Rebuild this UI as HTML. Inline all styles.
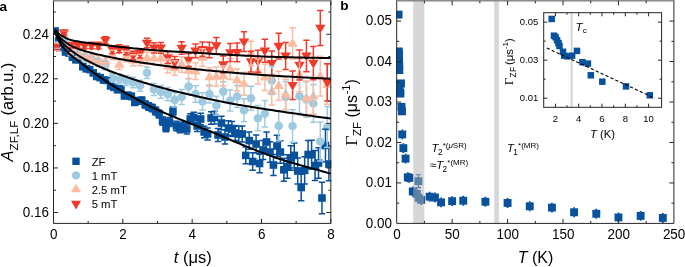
<!DOCTYPE html>
<html lang="en"><head><meta charset="utf-8"><title>Figure</title>
<style>html,body{margin:0;padding:0;background:#fff}svg{display:block;filter:blur(0.35px)}</style></head>
<body>
<svg width="685" height="267" viewBox="0 0 685 267" font-family='"Liberation Sans", Arial, Helvetica, sans-serif' fill="#000">
<rect width="685" height="267" fill="#fff"/>
<defs><clipPath id="ca"><rect x="53.5" y="0.9" width="277.8" height="222.5"/></clipPath>
<clipPath id="cb"><rect x="396.2" y="0.5" width="278.2" height="223.4"/></clipPath></defs>
<g clip-path="url(#ca)">
<g>
<rect x="51.3" y="27.2" width="7.6" height="7.6" fill="#08519c"/>
<rect x="54.77" y="37.2" width="7.6" height="7.6" fill="#08519c"/>
<rect x="58.23" y="43.7" width="7.6" height="7.6" fill="#08519c"/>
<rect x="61.7" y="48.2" width="7.6" height="7.6" fill="#08519c"/>
<rect x="65.16" y="49.27" width="7.6" height="7.6" fill="#08519c"/>
<rect x="68.63" y="53.39" width="7.6" height="7.6" fill="#08519c"/>
<rect x="72.1" y="56.01" width="7.6" height="7.6" fill="#08519c"/>
<rect x="75.56" y="55.82" width="7.6" height="7.6" fill="#08519c"/>
<rect x="79.03" y="62.97" width="7.6" height="7.6" fill="#08519c"/>
<rect x="82.49" y="65.03" width="7.6" height="7.6" fill="#08519c"/>
<rect x="85.96" y="65.77" width="7.6" height="7.6" fill="#08519c"/>
<rect x="89.43" y="69.11" width="7.6" height="7.6" fill="#08519c"/>
<rect x="92.89" y="72.68" width="7.6" height="7.6" fill="#08519c"/>
<rect x="96.36" y="73.87" width="7.6" height="7.6" fill="#08519c"/>
<rect x="99.82" y="76.26" width="7.6" height="7.6" fill="#08519c"/>
<rect x="103.29" y="76.62" width="7.6" height="7.6" fill="#08519c"/>
<rect x="106.76" y="82.08" width="7.6" height="7.6" fill="#08519c"/>
<rect x="110.22" y="83.57" width="7.6" height="7.6" fill="#08519c"/>
<rect x="113.69" y="85.91" width="7.6" height="7.6" fill="#08519c"/>
<rect x="117.15" y="85.03" width="7.6" height="7.6" fill="#08519c"/>
<rect x="120.62" y="92.05" width="7.6" height="7.6" fill="#08519c"/>
<rect x="124.09" y="91.56" width="7.6" height="7.6" fill="#08519c"/>
<rect x="127.55" y="92.59" width="7.6" height="7.6" fill="#08519c"/>
<rect x="131.02" y="98.37" width="7.6" height="7.6" fill="#08519c"/>
<rect x="134.48" y="96.96" width="7.6" height="7.6" fill="#08519c"/>
<rect x="137.95" y="96.6" width="7.6" height="7.6" fill="#08519c"/>
<rect x="141.42" y="100.7" width="7.6" height="7.6" fill="#08519c"/>
<rect x="144.88" y="102.7" width="7.6" height="7.6" fill="#08519c"/>
<rect x="148.35" y="104.2" width="7.6" height="7.6" fill="#08519c"/>
<rect x="151.81" y="107.2" width="7.6" height="7.6" fill="#08519c"/>
<rect x="155.28" y="110.2" width="7.6" height="7.6" fill="#08519c"/>
<rect x="158.75" y="117.2" width="7.6" height="7.6" fill="#08519c"/>
<rect x="162.21" y="123.8" width="7.6" height="7.6" fill="#08519c"/>
<rect x="165.68" y="118.2" width="7.6" height="7.6" fill="#08519c"/>
<rect x="169.14" y="107.7" width="7.6" height="7.6" fill="#08519c"/>
<rect x="172.61" y="122.2" width="7.6" height="7.6" fill="#08519c"/>
<rect x="176.08" y="124.2" width="7.6" height="7.6" fill="#08519c"/>
<rect x="179.54" y="123.2" width="7.6" height="7.6" fill="#08519c"/>
<rect x="183.01" y="125.2" width="7.6" height="7.6" fill="#08519c"/>
<rect x="186.47" y="115.2" width="7.6" height="7.6" fill="#08519c"/>
<rect x="189.94" y="113.7" width="7.6" height="7.6" fill="#08519c"/>
<rect x="193.41" y="122.2" width="7.6" height="7.6" fill="#08519c"/>
<rect x="196.87" y="115.2" width="7.6" height="7.6" fill="#08519c"/>
<rect x="200.34" y="128.2" width="7.6" height="7.6" fill="#08519c"/>
<rect x="203.8" y="130.2" width="7.6" height="7.6" fill="#08519c"/>
<rect x="207.27" y="114.2" width="7.6" height="7.6" fill="#08519c"/>
<rect x="210.74" y="113.8" width="7.6" height="7.6" fill="#08519c"/>
<rect x="214.2" y="131.2" width="7.6" height="7.6" fill="#08519c"/>
<rect x="217.67" y="119.2" width="7.6" height="7.6" fill="#08519c"/>
<rect x="221.13" y="133.2" width="7.6" height="7.6" fill="#08519c"/>
<rect x="224.6" y="124.2" width="7.6" height="7.6" fill="#08519c"/>
<rect x="228.07" y="125.2" width="7.6" height="7.6" fill="#08519c"/>
<rect x="231.53" y="129.2" width="7.6" height="7.6" fill="#08519c"/>
<rect x="235" y="130.2" width="7.6" height="7.6" fill="#08519c"/>
<rect x="238.46" y="130.2" width="7.6" height="7.6" fill="#08519c"/>
<rect x="241.93" y="151.6" width="7.6" height="7.6" fill="#08519c"/>
<rect x="245.4" y="136.8" width="7.6" height="7.6" fill="#08519c"/>
<rect x="248.86" y="157.7" width="7.6" height="7.6" fill="#08519c"/>
<rect x="252.33" y="140.2" width="7.6" height="7.6" fill="#08519c"/>
<rect x="255.79" y="159.7" width="7.6" height="7.6" fill="#08519c"/>
<rect x="259.26" y="146.2" width="7.6" height="7.6" fill="#08519c"/>
<rect x="262.73" y="138.2" width="7.6" height="7.6" fill="#08519c"/>
<rect x="266.19" y="148.2" width="7.6" height="7.6" fill="#08519c"/>
<rect x="269.66" y="161.2" width="7.6" height="7.6" fill="#08519c"/>
<rect x="273.12" y="142.2" width="7.6" height="7.6" fill="#08519c"/>
<rect x="276.59" y="148.2" width="7.6" height="7.6" fill="#08519c"/>
<rect x="280.06" y="166" width="7.6" height="7.6" fill="#08519c"/>
<rect x="283.52" y="162.7" width="7.6" height="7.6" fill="#08519c"/>
<rect x="286.99" y="154.2" width="7.6" height="7.6" fill="#08519c"/>
<rect x="290.45" y="151.6" width="7.6" height="7.6" fill="#08519c"/>
<rect x="293.92" y="167.2" width="7.6" height="7.6" fill="#08519c"/>
<rect x="297.39" y="183.7" width="7.6" height="7.6" fill="#08519c"/>
<rect x="300.85" y="166.6" width="7.6" height="7.6" fill="#08519c"/>
<rect x="304.32" y="150.7" width="7.6" height="7.6" fill="#08519c"/>
<rect x="307.78" y="151" width="7.6" height="7.6" fill="#08519c"/>
<rect x="311.25" y="161.7" width="7.6" height="7.6" fill="#08519c"/>
<rect x="314.72" y="159.2" width="7.6" height="7.6" fill="#08519c"/>
<rect x="318.18" y="194.2" width="7.6" height="7.6" fill="#08519c"/>
<rect x="321.65" y="141.7" width="7.6" height="7.6" fill="#08519c"/>
<rect x="325.11" y="160.2" width="7.6" height="7.6" fill="#08519c"/>
</g>
<g>
<circle cx="56.87" cy="45.5" r="4.3" fill="#9ecae1"/>
<circle cx="63.8" cy="40.5" r="4.3" fill="#9ecae1"/>
<circle cx="70.73" cy="52" r="4.3" fill="#9ecae1"/>
<circle cx="77.67" cy="55" r="4.3" fill="#9ecae1"/>
<circle cx="84.6" cy="58" r="4.3" fill="#9ecae1"/>
<circle cx="91.53" cy="59" r="4.3" fill="#9ecae1"/>
<circle cx="98.46" cy="62.5" r="4.3" fill="#9ecae1"/>
<circle cx="105.39" cy="65.3" r="4.3" fill="#9ecae1"/>
<circle cx="112.33" cy="77.5" r="4.3" fill="#9ecae1"/>
<circle cx="119.26" cy="79" r="4.3" fill="#9ecae1"/>
<circle cx="126.19" cy="80.5" r="4.3" fill="#9ecae1"/>
<circle cx="133.12" cy="82.5" r="4.3" fill="#9ecae1"/>
<circle cx="140.05" cy="85.7" r="4.3" fill="#9ecae1"/>
<circle cx="146.99" cy="72.8" r="4.3" fill="#9ecae1"/>
<circle cx="153.92" cy="89.5" r="4.3" fill="#9ecae1"/>
<circle cx="160.85" cy="91.9" r="4.3" fill="#9ecae1"/>
<circle cx="167.78" cy="94.1" r="4.3" fill="#9ecae1"/>
<circle cx="174.71" cy="99.9" r="4.3" fill="#9ecae1"/>
<circle cx="181.65" cy="97" r="4.3" fill="#9ecae1"/>
<circle cx="188.58" cy="86.5" r="4.3" fill="#9ecae1"/>
<circle cx="195.51" cy="94" r="4.3" fill="#9ecae1"/>
<circle cx="202.44" cy="101.4" r="4.3" fill="#9ecae1"/>
<circle cx="209.37" cy="94.1" r="4.3" fill="#9ecae1"/>
<circle cx="216.31" cy="105.8" r="4.3" fill="#9ecae1"/>
<circle cx="223.24" cy="91.6" r="4.3" fill="#9ecae1"/>
<circle cx="230.17" cy="100.5" r="4.3" fill="#9ecae1"/>
<circle cx="237.1" cy="96.5" r="4.3" fill="#9ecae1"/>
<circle cx="244.03" cy="110.3" r="4.3" fill="#9ecae1"/>
<circle cx="250.97" cy="98.3" r="4.3" fill="#9ecae1"/>
<circle cx="257.9" cy="118.2" r="4.3" fill="#9ecae1"/>
<circle cx="264.83" cy="113.7" r="4.3" fill="#9ecae1"/>
<circle cx="271.76" cy="80.5" r="4.3" fill="#9ecae1"/>
<circle cx="278.69" cy="125.9" r="4.3" fill="#9ecae1"/>
<circle cx="285.63" cy="97" r="4.3" fill="#9ecae1"/>
<circle cx="292.56" cy="126" r="4.3" fill="#9ecae1"/>
<circle cx="299.49" cy="96.2" r="4.3" fill="#9ecae1"/>
<circle cx="306.42" cy="99.5" r="4.3" fill="#9ecae1"/>
<circle cx="313.35" cy="103.5" r="4.3" fill="#9ecae1"/>
<circle cx="320.29" cy="141.5" r="4.3" fill="#9ecae1"/>
<circle cx="327.22" cy="127" r="4.3" fill="#9ecae1"/>
</g>
<g>
<path d="M51.67 50.3L62.07 50.3L56.87 41.4Z" fill="#fcbba1"/>
<path d="M58.6 37.3L69 37.3L63.8 28.4Z" fill="#fcbba1"/>
<path d="M65.53 53.3L75.93 53.3L70.73 44.4Z" fill="#fcbba1"/>
<path d="M72.47 56.3L82.87 56.3L77.67 47.4Z" fill="#fcbba1"/>
<path d="M79.4 59.3L89.8 59.3L84.6 50.4Z" fill="#fcbba1"/>
<path d="M86.33 62.8L96.73 62.8L91.53 53.9Z" fill="#fcbba1"/>
<path d="M93.26 63.6L103.66 63.6L98.46 54.7Z" fill="#fcbba1"/>
<path d="M100.19 64.1L110.59 64.1L105.39 55.2Z" fill="#fcbba1"/>
<path d="M107.13 58.3L117.53 58.3L112.33 49.4Z" fill="#fcbba1"/>
<path d="M114.06 67.8L124.46 67.8L119.26 58.9Z" fill="#fcbba1"/>
<path d="M120.99 59.8L131.39 59.8L126.19 50.9Z" fill="#fcbba1"/>
<path d="M127.92 63.5L138.32 63.5L133.12 54.6Z" fill="#fcbba1"/>
<path d="M134.85 63.3L145.25 63.3L140.05 54.4Z" fill="#fcbba1"/>
<path d="M141.79 61.3L152.19 61.3L146.99 52.4Z" fill="#fcbba1"/>
<path d="M148.72 61.3L159.12 61.3L153.92 52.4Z" fill="#fcbba1"/>
<path d="M155.65 61.8L166.05 61.8L160.85 52.9Z" fill="#fcbba1"/>
<path d="M162.58 69.3L172.98 69.3L167.78 60.4Z" fill="#fcbba1"/>
<path d="M169.51 71.3L179.91 71.3L174.71 62.4Z" fill="#fcbba1"/>
<path d="M176.45 67.8L186.85 67.8L181.65 58.9Z" fill="#fcbba1"/>
<path d="M183.38 73.8L193.78 73.8L188.58 64.9Z" fill="#fcbba1"/>
<path d="M190.31 74.5L200.71 74.5L195.51 65.6Z" fill="#fcbba1"/>
<path d="M197.24 60.8L207.64 60.8L202.44 51.9Z" fill="#fcbba1"/>
<path d="M204.17 80.3L214.57 80.3L209.37 71.4Z" fill="#fcbba1"/>
<path d="M211.11 79.8L221.51 79.8L216.31 70.9Z" fill="#fcbba1"/>
<path d="M218.04 79.3L228.44 79.3L223.24 70.4Z" fill="#fcbba1"/>
<path d="M224.97 72.3L235.37 72.3L230.17 63.4Z" fill="#fcbba1"/>
<path d="M231.9 83.3L242.3 83.3L237.1 74.4Z" fill="#fcbba1"/>
<path d="M238.83 87.1L249.23 87.1L244.03 78.2Z" fill="#fcbba1"/>
<path d="M245.77 56.7L256.17 56.7L250.97 47.8Z" fill="#fcbba1"/>
<path d="M252.7 74.6L263.1 74.6L257.9 65.7Z" fill="#fcbba1"/>
<path d="M259.63 80.6L270.03 80.6L264.83 71.7Z" fill="#fcbba1"/>
<path d="M266.56 94.4L276.96 94.4L271.76 85.5Z" fill="#fcbba1"/>
<path d="M273.49 89L283.89 89L278.69 80.1Z" fill="#fcbba1"/>
<path d="M280.43 97.6L290.83 97.6L285.63 88.7Z" fill="#fcbba1"/>
<path d="M287.36 46.7L297.76 46.7L292.56 37.8Z" fill="#fcbba1"/>
<path d="M294.29 78.6L304.69 78.6L299.49 69.7Z" fill="#fcbba1"/>
<path d="M301.22 101.6L311.62 101.6L306.42 92.7Z" fill="#fcbba1"/>
<path d="M308.15 99.4L318.55 99.4L313.35 90.5Z" fill="#fcbba1"/>
<path d="M315.09 79.4L325.49 79.4L320.29 70.5Z" fill="#fcbba1"/>
<path d="M322.02 87.7L332.42 87.7L327.22 78.8Z" fill="#fcbba1"/>
</g>
<g>
<path d="M51.67 43.7L62.07 43.7L56.87 52.6Z" fill="#ef3b2c"/>
<path d="M58.6 29.4L69 29.4L63.8 38.3Z" fill="#ef3b2c"/>
<path d="M65.53 41.9L75.93 41.9L70.73 50.8Z" fill="#ef3b2c"/>
<path d="M72.47 41.9L82.87 41.9L77.67 50.8Z" fill="#ef3b2c"/>
<path d="M79.4 42.4L89.8 42.4L84.6 51.3Z" fill="#ef3b2c"/>
<path d="M86.33 42.2L96.73 42.2L91.53 51.1Z" fill="#ef3b2c"/>
<path d="M93.26 42.4L103.66 42.4L98.46 51.3Z" fill="#ef3b2c"/>
<path d="M100.19 36.9L110.59 36.9L105.39 45.8Z" fill="#ef3b2c"/>
<path d="M107.13 46.4L117.53 46.4L112.33 55.3Z" fill="#ef3b2c"/>
<path d="M114.06 45.4L124.46 45.4L119.26 54.3Z" fill="#ef3b2c"/>
<path d="M120.99 47.2L131.39 47.2L126.19 56.1Z" fill="#ef3b2c"/>
<path d="M127.92 52.2L138.32 52.2L133.12 61.1Z" fill="#ef3b2c"/>
<path d="M134.85 50.1L145.25 50.1L140.05 59Z" fill="#ef3b2c"/>
<path d="M141.79 39.7L152.19 39.7L146.99 48.6Z" fill="#ef3b2c"/>
<path d="M148.72 44.6L159.12 44.6L153.92 53.5Z" fill="#ef3b2c"/>
<path d="M155.65 44.6L166.05 44.6L160.85 53.5Z" fill="#ef3b2c"/>
<path d="M162.58 54.2L172.98 54.2L167.78 63.1Z" fill="#ef3b2c"/>
<path d="M169.51 59.1L179.91 59.1L174.71 68Z" fill="#ef3b2c"/>
<path d="M176.45 44.8L186.85 44.8L181.65 53.7Z" fill="#ef3b2c"/>
<path d="M183.38 56.7L193.78 56.7L188.58 65.6Z" fill="#ef3b2c"/>
<path d="M190.31 47.5L200.71 47.5L195.51 56.4Z" fill="#ef3b2c"/>
<path d="M197.24 46L207.64 46L202.44 54.9Z" fill="#ef3b2c"/>
<path d="M204.17 46.7L214.57 46.7L209.37 55.6Z" fill="#ef3b2c"/>
<path d="M211.11 42.3L221.51 42.3L216.31 51.2Z" fill="#ef3b2c"/>
<path d="M218.04 61.2L228.44 61.2L223.24 70.1Z" fill="#ef3b2c"/>
<path d="M224.97 49.2L235.37 49.2L230.17 58.1Z" fill="#ef3b2c"/>
<path d="M231.9 49L242.3 49L237.1 57.9Z" fill="#ef3b2c"/>
<path d="M238.83 38.4L249.23 38.4L244.03 47.3Z" fill="#ef3b2c"/>
<path d="M245.77 58.3L256.17 58.3L250.97 67.2Z" fill="#ef3b2c"/>
<path d="M252.7 58L263.1 58L257.9 66.9Z" fill="#ef3b2c"/>
<path d="M259.63 47.4L270.03 47.4L264.83 56.3Z" fill="#ef3b2c"/>
<path d="M266.56 59.9L276.96 59.9L271.76 68.8Z" fill="#ef3b2c"/>
<path d="M273.49 42.8L283.89 42.8L278.69 51.7Z" fill="#ef3b2c"/>
<path d="M280.43 52.6L290.83 52.6L285.63 61.5Z" fill="#ef3b2c"/>
<path d="M287.36 81.9L297.76 81.9L292.56 90.8Z" fill="#ef3b2c"/>
<path d="M294.29 61.7L304.69 61.7L299.49 70.6Z" fill="#ef3b2c"/>
<path d="M301.22 52.6L311.62 52.6L306.42 61.5Z" fill="#ef3b2c"/>
<path d="M308.15 59.8L318.55 59.8L313.35 68.7Z" fill="#ef3b2c"/>
<path d="M315.09 24.7L325.49 24.7L320.29 33.6Z" fill="#ef3b2c"/>
<path d="M322.02 79L332.42 79L327.22 87.9Z" fill="#ef3b2c"/>
</g>
<path d="M51.9 29.33h6.4M51.9 32.67h6.4M55.37 39.28h6.4M55.37 42.72h6.4M58.83 45.73h6.4M58.83 49.27h6.4M62.3 50.17h6.4M62.3 53.83h6.4M65.76 51.19h6.4M65.76 54.95h6.4M69.23 55.25h6.4M69.23 59.12h6.4M72.7 57.81h6.4M72.7 61.8h6.4M76.16 57.57h6.4M76.16 61.67h6.4M79.63 64.65h6.4M79.63 68.88h6.4M83.09 66.66h6.4M83.09 71.01h6.4M86.56 67.33h6.4M86.56 71.81h6.4M90.03 70.6h6.4M90.03 75.21h6.4M93.49 74.11h6.4M93.49 78.86h6.4M96.96 75.23h6.4M96.96 80.12h6.4M100.42 77.54h6.4M100.42 82.57h6.4M103.89 77.83h6.4M103.89 83.01h6.4M107.36 83.21h6.4M107.36 88.55h6.4M110.82 84.63h6.4M110.82 90.12h6.4M114.29 86.88h6.4M114.29 92.54h6.4M117.75 85.92h6.4M117.75 91.74h6.4M121.22 92.86h6.4M121.22 98.85h6.4M124.69 92.28h6.4M124.69 98.45h6.4M128.15 93.21h6.4M128.15 99.57h6.4M131.62 98.89h6.4M131.62 105.44h6.4M135.08 97.39h6.4M135.08 104.13h6.4M138.55 96.93h6.4M138.55 103.87h6.4M142.02 100.93h6.4M142.02 108.07h6.4M145.48 102.82h6.4M145.48 110.18h6.4M148.95 104.21h6.4M148.95 111.79h6.4M155.61 107.1V107.5M155.61 114.5V114.9M152.41 107.1h6.4M152.41 114.9h6.4M159.08 109.99V110.5M159.08 117.5V118.01M155.88 109.99h6.4M155.88 118.01h6.4M162.55 116.87V117.5M162.55 124.5V125.13M159.35 116.87h6.4M159.35 125.13h6.4M166.01 123.35V124.1M166.01 131.1V131.85M162.81 123.35h6.4M162.81 131.85h6.4M169.48 117.62V118.5M169.48 125.5V126.38M166.28 117.62h6.4M166.28 126.38h6.4M172.94 106.99V108M172.94 115V116.01M169.74 106.99h6.4M169.74 116.01h6.4M176.41 121.36V122.5M176.41 129.5V130.64M173.21 121.36h6.4M173.21 130.64h6.4M179.88 123.22V124.5M179.88 131.5V132.78M176.68 123.22h6.4M176.68 132.78h6.4M183.34 122.08V123.5M183.34 130.5V131.92M180.14 122.08h6.4M180.14 131.92h6.4M186.81 123.93V125.5M186.81 132.5V134.07M183.61 123.93h6.4M183.61 134.07h6.4M190.27 113.78V115.5M190.27 122.5V124.22M187.07 113.78h6.4M187.07 124.22h6.4M193.74 112.13V114M193.74 121V122.87M190.54 112.13h6.4M190.54 122.87h6.4M197.21 120.47V122.5M197.21 129.5V131.53M194.01 120.47h6.4M194.01 131.53h6.4M200.67 113.31V115.5M200.67 122.5V124.69M197.47 113.31h6.4M197.47 124.69h6.4M204.14 126.14V128.5M204.14 135.5V137.86M200.94 126.14h6.4M200.94 137.86h6.4M207.6 127.96V130.5M207.6 137.5V140.04M204.4 127.96h6.4M204.4 140.04h6.4M211.07 111.78V114.5M211.07 121.5V124.22M207.87 111.78h6.4M207.87 124.22h6.4M214.54 111.2V114.1M214.54 121.1V124M211.34 111.2h6.4M211.34 124h6.4M218 128.41V131.5M218 138.5V141.59M214.8 128.41h6.4M214.8 141.59h6.4M221.47 116.22V119.5M221.47 126.5V129.78M218.27 116.22h6.4M218.27 129.78h6.4M224.93 130.02V133.5M224.93 140.5V143.98M221.73 130.02h6.4M221.73 143.98h6.4M228.4 120.81V124.5M228.4 131.5V135.19M225.2 120.81h6.4M225.2 135.19h6.4M231.87 121.6V125.5M231.87 132.5V136.4M228.67 121.6h6.4M228.67 136.4h6.4M235.33 125.38V129.5M235.33 136.5V140.62M232.13 125.38h6.4M232.13 140.62h6.4M238.8 126.15V130.5M238.8 137.5V141.85M235.6 126.15h6.4M235.6 141.85h6.4M242.26 125.92V130.5M242.26 137.5V142.08M239.06 125.92h6.4M239.06 142.08h6.4M245.73 147.08V151.9M245.73 158.9V163.72M242.53 147.08h6.4M242.53 163.72h6.4M249.2 132.03V137.1M249.2 144.1V149.17M246 132.03h6.4M246 149.17h6.4M252.66 152.68V158M252.66 165V170.32M249.46 152.68h6.4M249.46 170.32h6.4M256.13 134.92V140.5M256.13 147.5V153.08M252.93 134.92h6.4M252.93 153.08h6.4M259.59 154.15V160M259.59 167V172.85M256.39 154.15h6.4M256.39 172.85h6.4M263.06 140.38V146.5M263.06 153.5V159.62M259.86 140.38h6.4M259.86 159.62h6.4M266.53 132.09V138.5M266.53 145.5V151.91M263.33 132.09h6.4M263.33 151.91h6.4M269.99 141.8V148.5M269.99 155.5V162.2M266.79 141.8h6.4M266.79 162.2h6.4M273.46 154.5V161.5M273.46 168.5V175.5M270.26 154.5h6.4M270.26 175.5h6.4M276.92 135.18V142.5M276.92 149.5V156.82M273.72 135.18h6.4M273.72 156.82h6.4M280.39 140.86V148.5M280.39 155.5V163.14M277.19 140.86h6.4M277.19 163.14h6.4M283.86 158.34V166.3M283.86 173.3V181.26M280.66 158.34h6.4M280.66 181.26h6.4M287.32 154.7V163M287.32 170V178.3M284.12 154.7h6.4M284.12 178.3h6.4M290.79 145.85V154.5M290.79 161.5V170.15M287.59 145.85h6.4M287.59 170.15h6.4M294.25 142.89V151.9M294.25 158.9V167.91M291.05 142.89h6.4M291.05 167.91h6.4M297.72 158.12V167.5M297.72 174.5V183.88M294.52 158.12h6.4M294.52 183.88h6.4M301.19 174.24V184M301.19 191V200.76M297.99 174.24h6.4M297.99 200.76h6.4M304.65 156.74V166.9M304.65 173.9V184.06M301.45 156.74h6.4M301.45 184.06h6.4M308.12 140.44V151M308.12 158V168.56M304.92 140.44h6.4M304.92 168.56h6.4M311.58 140.32V151.3M311.58 158.3V169.28M308.38 140.32h6.4M308.38 169.28h6.4M315.05 150.6V162M315.05 169V180.4M311.85 150.6h6.4M311.85 180.4h6.4M318.52 147.65V159.5M318.52 166.5V178.35M315.32 147.65h6.4M315.32 178.35h6.4M321.98 182.2V194.5M321.98 201.5V213.8M318.78 182.2h6.4M318.78 213.8h6.4M325.45 129.23V142M325.45 149V161.77M322.25 129.23h6.4M322.25 161.77h6.4M328.91 147.25V160.5M328.91 167.5V180.75M325.71 147.25h6.4M325.71 180.75h6.4" stroke="#08519c" stroke-width="1.5" fill="none"/>
<path d="M53.67 42.43h6.4M53.67 48.57h6.4M60.6 37.27h6.4M60.6 43.73h6.4M67.53 48.61h6.4M67.53 55.39h6.4M74.47 51.44h6.4M74.47 58.56h6.4M81.4 54.26h6.4M81.4 61.74h6.4M88.33 55.08h6.4M88.33 62.92h6.4M95.26 58.38h6.4M95.26 66.62h6.4M105.39 60.97V61.3M105.39 69.3V69.63M102.19 60.97h6.4M102.19 69.63h6.4M112.33 72.96V73.5M112.33 81.5V82.04M109.13 72.96h6.4M109.13 82.04h6.4M119.26 74.23V75M119.26 83V83.77M116.06 74.23h6.4M116.06 83.77h6.4M126.19 75.49V76.5M126.19 84.5V85.51M122.99 75.49h6.4M122.99 85.51h6.4M133.12 77.24V78.5M133.12 86.5V87.76M129.92 77.24h6.4M129.92 87.76h6.4M140.05 80.18V81.7M140.05 89.7V91.22M136.85 80.18h6.4M136.85 91.22h6.4M146.99 67V68.8M146.99 76.8V78.6M143.79 67h6.4M143.79 78.6h6.4M153.92 83.41V85.5M153.92 93.5V95.59M150.72 83.41h6.4M150.72 95.59h6.4M160.85 85.51V87.9M160.85 95.9V98.29M157.65 85.51h6.4M157.65 98.29h6.4M167.78 87.39V90.1M167.78 98.1V100.81M164.58 87.39h6.4M164.58 100.81h6.4M174.71 92.86V95.9M174.71 103.9V106.94M171.51 92.86h6.4M171.51 106.94h6.4M181.65 89.6V93M181.65 101V104.4M178.45 89.6h6.4M178.45 104.4h6.4M188.58 78.73V82.5M188.58 90.5V94.27M185.38 78.73h6.4M185.38 94.27h6.4M195.51 85.84V90M195.51 98V102.16M192.31 85.84h6.4M192.31 102.16h6.4M202.44 92.84V97.4M202.44 105.4V109.96M199.24 92.84h6.4M199.24 109.96h6.4M209.37 85.11V90.1M209.37 98.1V103.09M206.17 85.11h6.4M206.17 103.09h6.4M216.31 96.36V101.8M216.31 109.8V115.24M213.11 96.36h6.4M213.11 115.24h6.4M223.24 81.69V87.6M223.24 95.6V101.51M220.04 81.69h6.4M220.04 101.51h6.4M230.17 90.09V96.5M230.17 104.5V110.91M226.97 90.09h6.4M226.97 110.91h6.4M237.1 85.57V92.5M237.1 100.5V107.43M233.9 85.57h6.4M233.9 107.43h6.4M244.03 98.83V106.3M244.03 114.3V121.77M240.83 98.83h6.4M240.83 121.77h6.4M250.97 86.25V94.3M250.97 102.3V110.35M247.77 86.25h6.4M247.77 110.35h6.4M257.9 105.55V114.2M257.9 122.2V130.85M254.7 105.55h6.4M254.7 130.85h6.4M264.83 100.42V109.7M264.83 117.7V126.98M261.63 100.42h6.4M261.63 126.98h6.4M271.76 66.55V76.5M271.76 84.5V94.45M268.56 66.55h6.4M268.56 94.45h6.4M278.69 111.26V121.9M278.69 129.9V140.54M275.49 111.26h6.4M275.49 140.54h6.4M285.63 81.62V93M285.63 101V112.38M282.43 81.62h6.4M282.43 112.38h6.4M292.56 109.86V122M292.56 130V142.14M289.36 109.86h6.4M289.36 142.14h6.4M299.49 79.25V92.2M299.49 100.2V113.15M296.29 79.25h6.4M296.29 113.15h6.4M306.42 81.7V95.5M306.42 103.5V117.3M303.22 81.7h6.4M303.22 117.3h6.4M313.35 84.81V99.5M313.35 107.5V122.19M310.15 84.81h6.4M310.15 122.19h6.4M320.29 121.88V137.5M320.29 145.5V161.12M317.09 121.88h6.4M317.09 161.12h6.4M327.22 106.4V123M327.22 131V147.6M324.02 106.4h6.4M324.02 147.6h6.4" stroke="#9ecae1" stroke-width="1.5" fill="none"/>
<path d="M56.87 49.9V50.38M53.67 43.62h6.4M53.67 50.38h6.4M63.8 36.9V37.53M60.6 30.47h6.4M60.6 37.53h6.4M70.73 52.9V53.7M67.53 46.3h6.4M67.53 53.7h6.4M77.67 55.9V56.87M74.47 49.13h6.4M74.47 56.87h6.4M84.6 58.9V60.05M81.4 51.95h6.4M81.4 60.05h6.4M91.53 62.4V63.74M88.33 55.26h6.4M88.33 63.74h6.4M98.46 63.2V64.73M95.26 55.87h6.4M95.26 64.73h6.4M105.39 63.7V65.44M102.19 56.16h6.4M102.19 65.44h6.4M112.33 57.9V59.86M109.13 50.14h6.4M109.13 59.86h6.4M119.26 67.4V69.58M116.06 59.42h6.4M116.06 69.58h6.4M126.19 59.4V61.82M122.99 51.18h6.4M122.99 61.82h6.4M133.12 54.63V55.1M133.12 63.1V65.77M129.92 54.63h6.4M129.92 65.77h6.4M140.05 54.18V54.9M140.05 62.9V65.82M136.85 54.18h6.4M136.85 65.82h6.4M146.99 51.9V52.9M146.99 60.9V64.1M143.79 51.9h6.4M143.79 64.1h6.4M153.92 51.62V52.9M153.92 60.9V64.38M150.72 51.62h6.4M150.72 64.38h6.4M160.85 51.82V53.4M160.85 61.4V65.18M157.65 51.82h6.4M157.65 65.18h6.4M167.78 59.01V60.9M167.78 68.9V72.99M164.58 59.01h6.4M164.58 72.99h6.4M174.71 60.69V62.9M174.71 70.9V75.31M171.51 60.69h6.4M171.51 75.31h6.4M181.65 56.85V59.4M181.65 67.4V72.15M178.45 56.85h6.4M178.45 72.15h6.4M188.58 62.49V65.4M188.58 73.4V78.51M185.38 62.49h6.4M185.38 78.51h6.4M195.51 62.82V66.1M195.51 74.1V79.58M192.31 62.82h6.4M192.31 79.58h6.4M202.44 48.73V52.4M202.44 60.4V66.27M199.24 48.73h6.4M199.24 66.27h6.4M209.37 67.82V71.9M209.37 79.9V86.18M206.17 67.82h6.4M206.17 86.18h6.4M216.31 66.9V71.4M216.31 79.4V86.1M213.11 66.9h6.4M213.11 86.1h6.4M223.24 65.95V70.9M223.24 78.9V86.05M220.04 65.95h6.4M220.04 86.05h6.4M230.17 58.48V63.9M230.17 71.9V79.52M226.97 58.48h6.4M226.97 79.52h6.4M237.1 68.99V74.9M237.1 82.9V91.01M233.9 68.99h6.4M233.9 91.01h6.4M244.03 72.28V78.7M244.03 86.7V95.32M240.83 72.28h6.4M240.83 95.32h6.4M250.97 41.35V48.3M250.97 56.3V65.45M247.77 41.35h6.4M247.77 65.45h6.4M257.9 58.69V66.2M257.9 74.2V83.91M254.7 58.69h6.4M254.7 83.91h6.4M264.83 64.1V72.2M264.83 80.2V90.5M261.63 64.1h6.4M261.63 90.5h6.4M271.76 77.28V86M271.76 94V104.92M268.56 77.28h6.4M268.56 104.92h6.4M278.69 71.24V80.6M278.69 88.6V100.16M275.49 71.24h6.4M275.49 100.16h6.4M285.63 79.17V89.2M285.63 97.2V109.43M282.43 79.17h6.4M282.43 109.43h6.4M292.56 27.8V38.3M292.56 46.3V59M289.36 27.8h6.4M289.36 59h6.4M299.49 58.73V70.2M299.49 78.2V91.87M296.29 58.73h6.4M296.29 91.87h6.4M306.42 80.96V93.2M306.42 101.2V115.64M303.22 80.96h6.4M303.22 115.64h6.4M313.35 77.95V91M313.35 99V114.25M310.15 77.95h6.4M310.15 114.25h6.4M320.29 56.2V71M320.29 79V96M317.09 56.2h6.4M317.09 96h6.4M327.22 64.53V79.3M327.22 87.3V104.27M324.02 64.53h6.4M324.02 104.27h6.4" stroke="#fcbba1" stroke-width="1.5" fill="none"/>
<path d="M53.67 44.52h6.4M53.67 49.48h6.4M60.6 30.09h6.4M60.6 35.31h6.4M67.53 42.45h6.4M67.53 47.95h6.4M74.47 42.3h6.4M74.47 48.1h6.4M81.4 42.65h6.4M81.4 48.75h6.4M91.53 42.29V42.6M88.33 42.29h6.4M88.33 48.71h6.4M98.46 42.32V42.8M95.26 42.32h6.4M95.26 49.08h6.4M105.39 36.64V37.3M102.19 36.64h6.4M102.19 43.76h6.4M112.33 45.96V46.8M109.13 45.96h6.4M109.13 53.44h6.4M119.26 44.76V45.8M116.06 44.76h6.4M116.06 52.64h6.4M126.19 46.35V47.6M122.99 46.35h6.4M122.99 54.65h6.4M133.12 51.14V52.6M129.92 51.14h6.4M129.92 59.86h6.4M140.05 48.81V50.5M136.85 48.81h6.4M136.85 57.99h6.4M146.99 38.16V40.1M143.79 38.16h6.4M143.79 47.84h6.4M153.92 42.81V45M150.72 42.81h6.4M150.72 52.99h6.4M160.85 42.54V45M157.65 42.54h6.4M157.65 53.26h6.4M167.78 51.86V54.6M167.78 62.6V63.14M164.58 51.86h6.4M164.58 63.14h6.4M174.71 56.46V59.5M174.71 67.5V68.34M171.51 56.46h6.4M171.51 68.34h6.4M181.65 41.85V45.2M181.65 53.2V54.35M178.45 41.85h6.4M178.45 54.35h6.4M188.58 53.42V57.1M188.58 65.1V66.58M185.38 53.42h6.4M185.38 66.58h6.4M195.51 43.88V47.9M195.51 55.9V57.72M192.31 43.88h6.4M192.31 57.72h6.4M202.44 42.01V46.4M202.44 54.4V56.59M199.24 42.01h6.4M199.24 56.59h6.4M209.37 42.33V47.1M209.37 55.1V57.67M206.17 42.33h6.4M206.17 57.67h6.4M216.31 37.52V42.7M216.31 50.7V53.68M213.11 37.52h6.4M213.11 53.68h6.4M223.24 56V61.6M223.24 69.6V73M220.04 56h6.4M220.04 73h6.4M230.17 43.55V49.6M230.17 57.6V61.45M226.97 43.55h6.4M226.97 61.45h6.4M237.1 42.88V49.4M237.1 57.4V61.72M233.9 42.88h6.4M233.9 61.72h6.4M244.03 31.78V38.8M244.03 46.8V51.62M240.83 31.78h6.4M240.83 51.62h6.4M250.97 51.16V58.7M250.97 66.7V72.04M247.77 51.16h6.4M247.77 72.04h6.4M257.9 50.31V58.4M257.9 66.4V72.29M254.7 50.31h6.4M254.7 72.29h6.4M264.83 39.14V47.8M264.83 55.8V62.26M261.63 39.14h6.4M261.63 62.26h6.4M271.76 51.03V60.3M271.76 68.3V75.37M268.56 51.03h6.4M268.56 75.37h6.4M278.69 33.29V43.2M278.69 51.2V58.91M275.49 33.29h6.4M275.49 58.91h6.4M285.63 42.41V53M285.63 61V69.39M282.43 42.41h6.4M282.43 69.39h6.4M292.56 71V82.3M292.56 90.3V99.4M289.36 71h6.4M289.36 99.4h6.4M299.49 50.06V62.1M299.49 70.1V79.94M296.29 50.06h6.4M296.29 79.94h6.4M306.42 40.17V53M306.42 61V71.63M303.22 40.17h6.4M303.22 71.63h6.4M313.35 46.54V60.2M313.35 68.2V79.66M310.15 46.54h6.4M310.15 79.66h6.4M320.29 10.6V25.1M320.29 33.1V45.4M317.09 10.6h6.4M317.09 45.4h6.4M327.22 63.7V79.4M327.22 87.4V100.9M324.02 63.7h6.4M324.02 100.9h6.4" stroke="#ef3b2c" stroke-width="1.5" fill="none"/>
<path d="M55 32.31L56.98 37.21L58.97 40.94L60.95 44.21L62.94 47.01L64.92 49.45L66.91 51.61L68.89 53.47L70.87 55.15L72.86 56.72L74.84 58.22L76.83 59.7L78.81 61.2L80.79 62.74L82.78 64.3L84.76 65.87L86.75 67.43L88.73 68.98L90.72 70.5L92.7 71.99L94.68 73.44L96.67 74.86L98.65 76.25L100.64 77.62L102.62 78.97L104.6 80.3L106.59 81.61L108.57 82.91L110.56 84.19L112.54 85.45L114.53 86.68L116.51 87.89L118.49 89.06L120.48 90.2L122.46 91.32L124.45 92.43L126.43 93.52L128.41 94.61L130.4 95.69L132.38 96.78L134.37 97.87L136.35 98.97L138.34 100.06L140.32 101.14L142.3 102.22L144.29 103.27L146.27 104.32L148.26 105.34L150.24 106.33L152.22 107.3L154.21 108.24L156.19 109.16L158.18 110.07L160.16 110.97L162.15 111.85L164.13 112.72L166.11 113.57L168.1 114.43L170.08 115.27L172.07 116.11L174.05 116.94L176.03 117.76L178.02 118.57L180 119.37L181.99 120.16L183.97 120.95L185.96 121.74L187.94 122.53L189.92 123.31L191.91 124.1L193.89 124.9L195.88 125.68L197.86 126.47L199.84 127.25L201.83 128.03L203.81 128.82L205.8 129.6L207.78 130.39L209.77 131.19L211.75 131.99L213.73 132.8L215.72 133.62L217.7 134.46L219.69 135.3L221.67 136.14L223.65 136.99L225.64 137.84L227.62 138.69L229.61 139.53L231.59 140.37L233.58 141.21L235.56 142.04L237.54 142.85L239.53 143.67L241.51 144.48L243.5 145.29L245.48 146.1L247.46 146.9L249.45 147.7L251.43 148.49L253.42 149.28L255.4 150.06L257.39 150.83L259.37 151.6L261.35 152.37L263.34 153.14L265.32 153.91L267.31 154.67L269.29 155.42L271.27 156.15L273.26 156.87L275.24 157.57L277.23 158.24L279.21 158.9L281.2 159.53L283.18 160.15L285.16 160.76L287.15 161.35L289.13 161.94L291.12 162.51L293.1 163.09L295.08 163.66L297.07 164.23L299.05 164.8L301.04 165.37L303.02 165.92L305.01 166.47L306.99 167.02L308.97 167.56L310.96 168.11L312.94 168.65L314.93 169.2L316.91 169.75L318.89 170.31L320.88 170.88L322.86 171.44L324.85 172.01L326.83 172.59L328.82 173.16L330.8 173.74" stroke="#000" stroke-width="2" fill="none" stroke-linejoin="round"/>
<path d="M55 31.34L56.98 35.32L58.97 38.45L60.95 41.13L62.94 43.36L64.92 45.29L66.91 47.04L68.89 48.66L70.87 50.21L72.86 51.7L74.84 53.12L76.83 54.47L78.81 55.76L80.79 56.98L82.78 58.16L84.76 59.29L86.75 60.39L88.73 61.44L90.72 62.47L92.7 63.46L94.68 64.43L96.67 65.36L98.65 66.27L100.64 67.16L102.62 68.02L104.6 68.86L106.59 69.67L108.57 70.47L110.56 71.24L112.54 71.98L114.53 72.71L116.51 73.42L118.49 74.12L120.48 74.81L122.46 75.51L124.45 76.21L126.43 76.91L128.41 77.61L130.4 78.3L132.38 78.98L134.37 79.65L136.35 80.3L138.34 80.93L140.32 81.55L142.3 82.15L144.29 82.74L146.27 83.32L148.26 83.9L150.24 84.47L152.22 85.04L154.21 85.61L156.19 86.17L158.18 86.73L160.16 87.28L162.15 87.83L164.13 88.37L166.11 88.9L168.1 89.42L170.08 89.93L172.07 90.43L174.05 90.92L176.03 91.41L178.02 91.89L180 92.37L181.99 92.84L183.97 93.31L185.96 93.77L187.94 94.23L189.92 94.69L191.91 95.14L193.89 95.59L195.88 96.03L197.86 96.48L199.84 96.92L201.83 97.37L203.81 97.81L205.8 98.25L207.78 98.69L209.77 99.12L211.75 99.55L213.73 99.98L215.72 100.4L217.7 100.82L219.69 101.23L221.67 101.64L223.65 102.03L225.64 102.42L227.62 102.8L229.61 103.18L231.59 103.54L233.58 103.9L235.56 104.26L237.54 104.61L239.53 104.95L241.51 105.29L243.5 105.62L245.48 105.96L247.46 106.28L249.45 106.61L251.43 106.93L253.42 107.25L255.4 107.57L257.39 107.89L259.37 108.21L261.35 108.53L263.34 108.84L265.32 109.15L267.31 109.45L269.29 109.76L271.27 110.06L273.26 110.36L275.24 110.66L277.23 110.96L279.21 111.25L281.2 111.55L283.18 111.84L285.16 112.13L287.15 112.42L289.13 112.71L291.12 113L293.1 113.29L295.08 113.58L297.07 113.87L299.05 114.15L301.04 114.44L303.02 114.72L305.01 115L306.99 115.29L308.97 115.57L310.96 115.85L312.94 116.12L314.93 116.4L316.91 116.68L318.89 116.95L320.88 117.22L322.86 117.5L324.85 117.77L326.83 118.04L328.82 118.31L330.8 118.57" stroke="#000" stroke-width="2" fill="none" stroke-linejoin="round"/>
<path d="M55 30.73L56.98 33.97L58.97 36.46L60.95 38.52L62.94 40.24L64.92 41.8L66.91 43.24L68.89 44.52L70.87 45.64L72.86 46.63L74.84 47.52L76.83 48.33L78.81 49.08L80.79 49.77L82.78 50.42L84.76 51.03L86.75 51.6L88.73 52.14L90.72 52.67L92.7 53.19L94.68 53.69L96.67 54.17L98.65 54.65L100.64 55.1L102.62 55.55L104.6 55.99L106.59 56.42L108.57 56.84L110.56 57.25L112.54 57.64L114.53 58.03L116.51 58.41L118.49 58.78L120.48 59.15L122.46 59.5L124.45 59.85L126.43 60.2L128.41 60.53L130.4 60.86L132.38 61.18L134.37 61.5L136.35 61.81L138.34 62.11L140.32 62.41L142.3 62.71L144.29 62.99L146.27 63.28L148.26 63.56L150.24 63.83L152.22 64.11L154.21 64.39L156.19 64.66L158.18 64.93L160.16 65.21L162.15 65.47L164.13 65.74L166.11 66L168.1 66.25L170.08 66.49L172.07 66.73L174.05 66.96L176.03 67.18L178.02 67.4L180 67.6L181.99 67.8L183.97 68L185.96 68.2L187.94 68.4L189.92 68.59L191.91 68.79L193.89 68.99L195.88 69.19L197.86 69.39L199.84 69.59L201.83 69.79L203.81 69.99L205.8 70.19L207.78 70.39L209.77 70.59L211.75 70.78L213.73 70.98L215.72 71.17L217.7 71.36L219.69 71.55L221.67 71.73L223.65 71.91L225.64 72.09L227.62 72.27L229.61 72.44L231.59 72.61L233.58 72.77L235.56 72.93L237.54 73.1L239.53 73.25L241.51 73.41L243.5 73.57L245.48 73.72L247.46 73.87L249.45 74.02L251.43 74.17L253.42 74.32L255.4 74.46L257.39 74.61L259.37 74.75L261.35 74.88L263.34 75.02L265.32 75.15L267.31 75.29L269.29 75.42L271.27 75.54L273.26 75.67L275.24 75.79L277.23 75.91L279.21 76.03L281.2 76.15L283.18 76.27L285.16 76.39L287.15 76.5L289.13 76.62L291.12 76.73L293.1 76.84L295.08 76.95L297.07 77.06L299.05 77.17L301.04 77.28L303.02 77.38L305.01 77.49L306.99 77.59L308.97 77.69L310.96 77.79L312.94 77.89L314.93 77.99L316.91 78.08L318.89 78.17L320.88 78.26L322.86 78.35L324.85 78.44L326.83 78.53L328.82 78.61L330.8 78.69" stroke="#000" stroke-width="2" fill="none" stroke-linejoin="round"/>
<path d="M55 29.77L56.98 32.1L58.97 33.98L60.95 35.29L62.94 36.4L64.92 37.49L66.91 38.53L68.89 39.42L70.87 40.07L72.86 40.56L74.84 40.95L76.83 41.3L78.81 41.61L80.79 41.92L82.78 42.21L84.76 42.48L86.75 42.74L88.73 42.99L90.72 43.24L92.7 43.5L94.68 43.75L96.67 44.01L98.65 44.27L100.64 44.52L102.62 44.77L104.6 45.02L106.59 45.27L108.57 45.51L110.56 45.75L112.54 45.99L114.53 46.22L116.51 46.45L118.49 46.68L120.48 46.91L122.46 47.14L124.45 47.36L126.43 47.57L128.41 47.79L130.4 48L132.38 48.2L134.37 48.4L136.35 48.6L138.34 48.79L140.32 48.98L142.3 49.17L144.29 49.36L146.27 49.53L148.26 49.71L150.24 49.88L152.22 50.04L154.21 50.19L156.19 50.34L158.18 50.49L160.16 50.63L162.15 50.77L164.13 50.91L166.11 51.04L168.1 51.16L170.08 51.29L172.07 51.41L174.05 51.53L176.03 51.65L178.02 51.76L180 51.86L181.99 51.97L183.97 52.07L185.96 52.18L187.94 52.28L189.92 52.4L191.91 52.51L193.89 52.63L195.88 52.75L197.86 52.87L199.84 52.99L201.83 53.12L203.81 53.25L205.8 53.37L207.78 53.5L209.77 53.63L211.75 53.76L213.73 53.88L215.72 54.01L217.7 54.13L219.69 54.26L221.67 54.38L223.65 54.5L225.64 54.61L227.62 54.73L229.61 54.84L231.59 54.94L233.58 55.05L235.56 55.15L237.54 55.25L239.53 55.35L241.51 55.45L243.5 55.56L245.48 55.66L247.46 55.76L249.45 55.85L251.43 55.95L253.42 56.05L255.4 56.14L257.39 56.23L259.37 56.32L261.35 56.4L263.34 56.48L265.32 56.56L267.31 56.64L269.29 56.71L271.27 56.77L273.26 56.84L275.24 56.9L277.23 56.95L279.21 57.01L281.2 57.06L283.18 57.11L285.16 57.17L287.15 57.22L289.13 57.27L291.12 57.32L293.1 57.37L295.08 57.42L297.07 57.47L299.05 57.51L301.04 57.56L303.02 57.6L305.01 57.64L306.99 57.68L308.97 57.72L310.96 57.76L312.94 57.79L314.93 57.82L316.91 57.85L318.89 57.88L320.88 57.91L322.86 57.93L324.85 57.95L326.83 57.97L328.82 57.99L330.8 58" stroke="#000" stroke-width="2" fill="none" stroke-linejoin="round"/>
</g>
<g stroke="#262626" stroke-width="1" fill="none">
<path d="M53.5 0V223.4H330.8V0"/>
<path d="M53 0.7H331.3" stroke="#8a8a8a" stroke-width="1.5"/>
<path d="M53.5 223.4v-4.5M53.5 0.9v4.5M88.16 223.4v-2.5M88.16 0.9v2.5M122.83 223.4v-4.5M122.83 0.9v4.5M157.49 223.4v-2.5M157.49 0.9v2.5M192.15 223.4v-4.5M192.15 0.9v4.5M226.81 223.4v-2.5M226.81 0.9v2.5M261.48 223.4v-4.5M261.48 0.9v4.5M296.14 223.4v-2.5M296.14 0.9v2.5M330.8 223.4v-4.5M330.8 0.9v4.5M53.5 212.5h4.5M330.8 212.5h-4.5M53.5 190.22h2.5M330.8 190.22h-2.5M53.5 167.94h4.5M330.8 167.94h-4.5M53.5 145.66h2.5M330.8 145.66h-2.5M53.5 123.38h4.5M330.8 123.38h-4.5M53.5 101.1h2.5M330.8 101.1h-2.5M53.5 78.82h4.5M330.8 78.82h-4.5M53.5 56.54h2.5M330.8 56.54h-2.5M53.5 34.26h4.5M330.8 34.26h-4.5M53.5 11.98h2.5M330.8 11.98h-2.5"/>
</g>
<g font-size="14.1" text-anchor="end">
<text transform="translate(48.9 216.8) scale(0.955 1)">0.16</text>
<text transform="translate(48.9 172.24) scale(0.955 1)">0.18</text>
<text transform="translate(48.9 127.68) scale(0.955 1)">0.20</text>
<text transform="translate(48.9 83.12) scale(0.955 1)">0.22</text>
<text transform="translate(48.9 38.56) scale(0.955 1)">0.24</text>
</g>
<g font-size="14.1" text-anchor="middle">
<text transform="translate(53.7 239.3) scale(0.955 1)">0</text>
<text transform="translate(123.03 239.3) scale(0.955 1)">2</text>
<text transform="translate(192.35 239.3) scale(0.955 1)">4</text>
<text transform="translate(261.68 239.3) scale(0.955 1)">6</text>
<text transform="translate(331 239.3) scale(0.955 1)">8</text>
</g>
<text x="192.7" y="263.2" font-size="16.5" text-anchor="middle"><tspan font-style="italic">t</tspan> (μs)</text>
<g transform="translate(13.2 161.4) rotate(-90)" font-size="16.4"><text x="-0.2" y="0" font-style="italic">A</text><text x="11.0" y="4.6" font-size="11.6">ZF,LF</text><text x="45.9" y="0">(arb.u.)</text></g>
<text x="-0.5" y="10.7" font-size="13.6" font-weight="bold" fill="#000">a</text>
<rect x="72.31" y="157.61" width="7.37" height="7.37" fill="#08519c"/>
<text x="91.7" y="165.5" font-size="11.3">ZF</text>
<circle cx="76" cy="175.4" r="4.17" fill="#9ecae1"/>
<text x="91.7" y="179.6" font-size="11.3">1 mT</text>
<path d="M70.96 192.3L81.04 192.3L76 183.67Z" fill="#fcbba1"/>
<text x="91.7" y="193.7" font-size="11.3">2.5 mT</text>
<path d="M70.96 200.8L81.04 200.8L76 209.43Z" fill="#ef3b2c"/>
<text x="91.7" y="207.8" font-size="11.3">5 mT</text>
<g clip-path="url(#cb)">
<path d="M402.24 129.99V138.79M401.34 129.99h1.8M401.34 138.79h1.8M403.35 143.74V152.54M402.45 143.74h1.8M402.45 152.54h1.8M405.57 154.26V163.06M404.67 154.26h1.8M404.67 163.06h1.8M407.79 172.88V181.68M406.89 172.88h1.8M406.89 181.68h1.8M409.34 173.48V182.28M408.44 173.48h1.8M408.44 182.28h1.8M412.78 187.04V195.84M411.88 187.04h1.8M411.88 195.84h1.8M416.77 189.46V198.26M415.87 189.46h1.8M415.87 198.26h1.8M418.43 174.8V187.6M415.83 174.8h5.2M415.83 187.6h5.2M418.65 193.51V202.31M417.75 193.51h1.8M417.75 202.31h1.8M421.2 195.53V204.33M420.3 195.53h1.8M420.3 204.33h1.8M429.63 192.3V201.1M428.73 192.3h1.8M428.73 201.1h1.8M434.95 193.11V201.91M434.05 193.11h1.8M434.05 201.91h1.8M441.05 197.96V206.76M440.15 197.96h1.8M440.15 206.76h1.8M452.14 196.75V205.55M451.24 196.75h1.8M451.24 205.55h1.8M463.23 196.34V205.14M462.33 196.34h1.8M462.33 205.14h1.8M485.4 197.35V206.15M484.5 197.35h1.8M484.5 206.15h1.8M507.58 198.57V207.37M506.68 198.57h1.8M506.68 207.37h1.8M529.76 201.89V210.69M528.86 201.89h1.8M528.86 210.69h1.8M551.93 203.22V212.02M551.03 203.22h1.8M551.03 212.02h1.8M574.11 207.87V216.67M573.21 207.87h1.8M573.21 216.67h1.8M596.28 209.37V218.17M595.38 209.37h1.8M595.38 218.17h1.8M618.46 213.01V221.81M617.56 213.01h1.8M617.56 221.81h1.8M640.64 211.51V220.31M639.74 211.51h1.8M639.74 220.31h1.8M662.81 213.54V222.34M661.91 213.54h1.8M661.91 222.34h1.8" stroke="#08519c" stroke-width="1.1" fill="none"/>
<rect x="394.62" y="10.68" width="7.9" height="7.9" fill="#08519c"/>
<rect x="394.83" y="47.49" width="7.9" height="7.9" fill="#08519c"/>
<rect x="394.97" y="50.33" width="7.9" height="7.9" fill="#08519c"/>
<rect x="395.13" y="56.4" width="7.9" height="7.9" fill="#08519c"/>
<rect x="395.27" y="61.66" width="7.9" height="7.9" fill="#08519c"/>
<rect x="395.36" y="66.11" width="7.9" height="7.9" fill="#08519c"/>
<rect x="395.69" y="80.27" width="7.9" height="7.9" fill="#08519c"/>
<rect x="395.8" y="87.55" width="7.9" height="7.9" fill="#08519c"/>
<rect x="396.08" y="89.57" width="7.9" height="7.9" fill="#08519c"/>
<rect x="396.52" y="89.17" width="7.9" height="7.9" fill="#08519c"/>
<rect x="397.02" y="79.46" width="7.9" height="7.9" fill="#08519c"/>
<rect x="397.52" y="102.93" width="7.9" height="7.9" fill="#08519c"/>
<rect x="398.02" y="107.38" width="7.9" height="7.9" fill="#08519c"/>
<rect x="398.29" y="130.44" width="7.9" height="7.9" fill="#08519c"/>
<rect x="399.4" y="144.19" width="7.9" height="7.9" fill="#08519c"/>
<rect x="401.62" y="154.71" width="7.9" height="7.9" fill="#08519c"/>
<rect x="403.84" y="173.33" width="7.9" height="7.9" fill="#08519c"/>
<rect x="405.39" y="173.93" width="7.9" height="7.9" fill="#08519c"/>
<rect x="408.83" y="187.49" width="7.9" height="7.9" fill="#08519c"/>
<rect x="412.82" y="189.91" width="7.9" height="7.9" fill="#08519c"/>
<rect x="414.48" y="177.25" width="7.9" height="7.9" fill="#08519c"/>
<rect x="414.7" y="193.96" width="7.9" height="7.9" fill="#08519c"/>
<rect x="417.25" y="195.98" width="7.9" height="7.9" fill="#08519c"/>
<rect x="425.68" y="192.75" width="7.9" height="7.9" fill="#08519c"/>
<rect x="431" y="193.56" width="7.9" height="7.9" fill="#08519c"/>
<rect x="437.1" y="198.41" width="7.9" height="7.9" fill="#08519c"/>
<rect x="448.19" y="197.2" width="7.9" height="7.9" fill="#08519c"/>
<rect x="459.28" y="196.79" width="7.9" height="7.9" fill="#08519c"/>
<rect x="481.45" y="197.8" width="7.9" height="7.9" fill="#08519c"/>
<rect x="503.63" y="199.02" width="7.9" height="7.9" fill="#08519c"/>
<rect x="525.81" y="202.34" width="7.9" height="7.9" fill="#08519c"/>
<rect x="547.98" y="203.67" width="7.9" height="7.9" fill="#08519c"/>
<rect x="570.16" y="208.32" width="7.9" height="7.9" fill="#08519c"/>
<rect x="592.33" y="209.82" width="7.9" height="7.9" fill="#08519c"/>
<rect x="614.51" y="213.46" width="7.9" height="7.9" fill="#08519c"/>
<rect x="636.69" y="211.96" width="7.9" height="7.9" fill="#08519c"/>
<rect x="658.86" y="213.99" width="7.9" height="7.9" fill="#08519c"/>
<rect x="413.2" y="0" width="11.1" height="224" fill="#b0b0b0" fill-opacity="0.5"/>
<rect x="494.2" y="0" width="4.7" height="224" fill="#b0b0b0" fill-opacity="0.5"/>
</g>
<g stroke="#262626" stroke-width="1" fill="none">
<path d="M396.7 0V223.4H673.9V0"/>
<path d="M396.2 0.7H674.4" stroke="#8a8a8a" stroke-width="1.5"/>
<path d="M424.42 223.4v-2.5M424.42 0.9v2.5M452.14 223.4v-4.5M452.14 0.9v4.5M479.86 223.4v-2.5M479.86 0.9v2.5M507.58 223.4v-4.5M507.58 0.9v4.5M535.3 223.4v-2.5M535.3 0.9v2.5M563.02 223.4v-4.5M563.02 0.9v4.5M590.74 223.4v-2.5M590.74 0.9v2.5M618.46 223.4v-4.5M618.46 0.9v4.5M646.18 223.4v-2.5M646.18 0.9v2.5M396.7 203.17h2.5M673.9 203.17h-2.5M396.7 182.94h4.5M673.9 182.94h-4.5M396.7 162.71h2.5M673.9 162.71h-2.5M396.7 142.48h4.5M673.9 142.48h-4.5M396.7 122.25h2.5M673.9 122.25h-2.5M396.7 102.02h4.5M673.9 102.02h-4.5M396.7 81.79h2.5M673.9 81.79h-2.5M396.7 61.56h4.5M673.9 61.56h-4.5M396.7 41.33h2.5M673.9 41.33h-2.5M396.7 21.1h4.5M673.9 21.1h-4.5"/>
</g>
<g font-size="14.1" text-anchor="end">
<text transform="translate(391.9 227.7) scale(0.955 1)">0.00</text>
<text transform="translate(391.9 187.24) scale(0.955 1)">0.01</text>
<text transform="translate(391.9 146.78) scale(0.955 1)">0.02</text>
<text transform="translate(391.9 106.32) scale(0.955 1)">0.03</text>
<text transform="translate(391.9 65.86) scale(0.955 1)">0.04</text>
<text transform="translate(391.9 25.4) scale(0.955 1)">0.05</text>
</g>
<g font-size="14.1" text-anchor="middle">
<text transform="translate(396.9 239.3) scale(0.955 1)">0</text>
<text transform="translate(452.34 239.3) scale(0.955 1)">50</text>
<text transform="translate(507.78 239.3) scale(0.955 1)">100</text>
<text transform="translate(563.22 239.3) scale(0.955 1)">150</text>
<text transform="translate(618.66 239.3) scale(0.955 1)">200</text>
<text transform="translate(674.1 239.3) scale(0.955 1)">250</text>
</g>
<text x="535.5" y="263.2" font-size="16" text-anchor="middle"><tspan font-style="italic">T</tspan> (K)</text>
<g transform="translate(357 145.7) rotate(-90)" font-size="16"><text x="0" y="0" font-family='"Liberation Serif", "Times New Roman", serif' font-size="17.5">Γ</text><text x="9.6" y="4" font-size="11.6">ZF</text><text x="28.2" y="0">(μs</text><text x="51.4" y="-7" font-size="11">-1</text><text x="61.3" y="0">)</text></g>
<text x="340.3" y="10.3" font-size="13.6" font-weight="bold" fill="#000">b</text>
<text x="431.6" y="151.7" font-size="11.3"><tspan font-style="italic">T</tspan><tspan font-size="8.2" dy="3.1" dx="-0.6">2</tspan><tspan font-size="8.0" dy="-7.3" dx="0.2">*(<tspan font-style="italic">μ</tspan>SR)</tspan></text>
<text x="430" y="169.2" font-size="11.3">≈<tspan font-style="italic">T</tspan><tspan font-size="8.2" dy="3.1" dx="-0.6">2</tspan><tspan font-size="8.0" dy="-7.3" dx="0.2">*(MR)</tspan></text>
<text x="507" y="151.7" font-size="11.3"><tspan font-style="italic">T</tspan><tspan font-size="8.2" dy="3.1" dx="-0.6">1</tspan><tspan font-size="8.0" dy="-7.3" dx="0.2">*(MR)</tspan></text>
<rect x="543.7" y="12.7" width="117.9" height="94.6" fill="#fff"/>
<path d="M571.6 12.7V107.3" stroke="#cfcfcf" stroke-width="1.7"/>
<rect x="548.45" y="15.7" width="6.5" height="6.5" fill="#08519c"/>
<rect x="550.75" y="32.45" width="6.5" height="6.5" fill="#08519c"/>
<rect x="552.35" y="33.95" width="6.5" height="6.5" fill="#08519c"/>
<rect x="553.85" y="36.95" width="6.5" height="6.5" fill="#08519c"/>
<rect x="555.25" y="39.85" width="6.5" height="6.5" fill="#08519c"/>
<rect x="556.25" y="42.75" width="6.5" height="6.5" fill="#08519c"/>
<rect x="559.75" y="48.55" width="6.5" height="6.5" fill="#08519c"/>
<rect x="561.05" y="52.45" width="6.5" height="6.5" fill="#08519c"/>
<rect x="563.95" y="53.05" width="6.5" height="6.5" fill="#08519c"/>
<rect x="568.85" y="52.45" width="6.5" height="6.5" fill="#08519c"/>
<rect x="573.75" y="47.65" width="6.5" height="6.5" fill="#08519c"/>
<rect x="579.15" y="58.95" width="6.5" height="6.5" fill="#08519c"/>
<rect x="584.65" y="60.35" width="6.5" height="6.5" fill="#08519c"/>
<rect x="587.55" y="72.05" width="6.5" height="6.5" fill="#08519c"/>
<rect x="599.05" y="78.45" width="6.5" height="6.5" fill="#08519c"/>
<rect x="622.75" y="83.15" width="6.5" height="6.5" fill="#08519c"/>
<rect x="646.55" y="92.05" width="6.5" height="6.5" fill="#08519c"/>
<path d="M546.8 48L654.8 98.3" stroke="#000" stroke-width="1.1" stroke-dasharray="3.2 2.2" fill="none"/>
<g stroke="#262626" stroke-width="1" fill="none">
<rect x="543.7" y="12.7" width="117.9" height="94.6"/>
<path d="M555.4 107.3v-3.6M555.4 12.7v3.6M567.05 107.3v-2M567.05 12.7v2M578.7 107.3v-3.6M578.7 12.7v3.6M590.35 107.3v-2M590.35 12.7v2M602 107.3v-3.6M602 12.7v3.6M613.65 107.3v-2M613.65 12.7v2M625.3 107.3v-3.6M625.3 12.7v3.6M636.95 107.3v-2M636.95 12.7v2M648.6 107.3v-3.6M648.6 12.7v3.6M543.7 98.2h3.6M661.6 98.2h-3.6M543.7 79.18h2M661.6 79.18h-2M543.7 60.16h3.6M661.6 60.16h-3.6M543.7 41.14h2M661.6 41.14h-2M543.7 22.12h3.6M661.6 22.12h-3.6"/>
</g>
<g font-size="9.5" text-anchor="end">
<text x="538.3" y="100.9">0.01</text>
<text x="538.3" y="62.86">0.03</text>
<text x="538.3" y="24.82">0.05</text>
</g>
<g font-size="9.5" text-anchor="middle">
<text x="555.4" y="121.5">2</text>
<text x="578.7" y="121.5">4</text>
<text x="602" y="121.5">6</text>
<text x="625.3" y="121.5">8</text>
<text x="648.6" y="121.5">10</text>
</g>
<text x="602.5" y="137.5" font-size="11.3" text-anchor="middle"><tspan font-style="italic">T</tspan> (K)</text>
<text transform="translate(513.0 85.3) rotate(-90)" font-size="11.3"><tspan font-family='"Liberation Serif", "Times New Roman", serif' font-size="13.5">Γ</tspan><tspan font-size="8.3" dy="3" letter-spacing="0.4">ZF</tspan><tspan dy="-3" dx="-1.6"> (μs</tspan><tspan font-size="8" dy="-5">-1</tspan><tspan dy="5">)</tspan></text>
<text x="575.6" y="30.8" font-size="11.6"><tspan font-style="italic">T</tspan><tspan font-size="8" dy="2.6">c</tspan></text>
</svg>
</body></html>
